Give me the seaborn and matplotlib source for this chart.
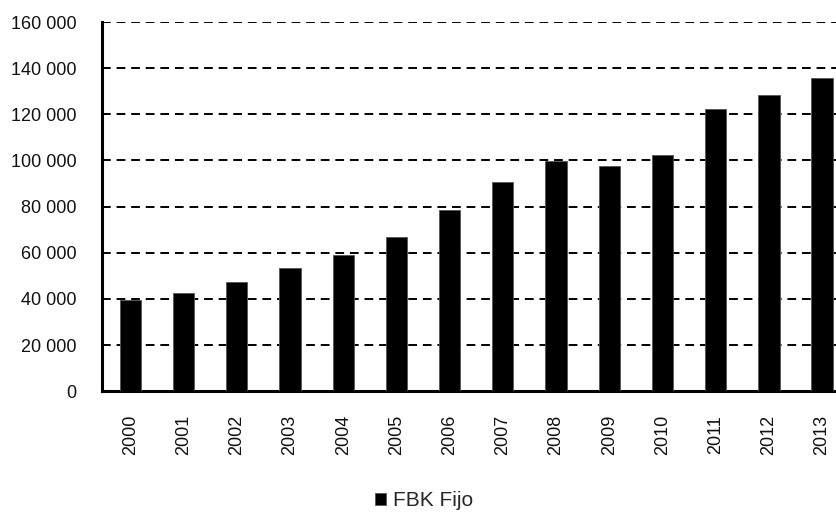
import matplotlib

matplotlib.use("Agg")
import matplotlib.pyplot as plt
from matplotlib.ticker import FuncFormatter, MultipleLocator
import pandas as pd
import seaborn as sns

years = ["2000", "2001", "2002", "2003", "2004", "2005", "2006",
         "2007", "2008", "2009", "2010", "2011", "2012", "2013"]
fbk_fijo = [39500, 42600, 47300, 53500, 59000, 67000, 78700,
            90500, 99600, 97800, 102200, 122300, 128500, 135700]
series_label = "FBK Fijo"

sns.set_theme(style="white")
plt.rcParams["font.family"] = ["Liberation Sans", "DejaVu Sans"]

df = pd.DataFrame({"year": years, "value": fbk_fijo, "serie": series_label})

fig = plt.figure(figsize=(8.37, 5.12), dpi=100)
ax = fig.add_axes([0.122, 0.236, 0.878, 0.721])

sns.barplot(data=df, x="year", y="value", hue="serie", palette=["black"],
            width=0.4, edgecolor="#555555", linewidth=0.6, ax=ax, zorder=3)

ax.set_ylim(0, 160000)
ax.set_xlim(-0.53, 13.28)
ax.yaxis.set_major_locator(MultipleLocator(20000))
ax.yaxis.set_major_formatter(FuncFormatter(lambda v, _: f"{int(v):,}".replace(",", " ")))
ax.grid(axis="y", color="black", linestyle=(0, (4.5, 3)), linewidth=1.4, zorder=0)
ax.set_axisbelow(True)

for side in ("top", "right"):
    ax.spines[side].set_visible(False)
for side in ("left", "bottom"):
    ax.spines[side].set_color("black")
    ax.spines[side].set_linewidth(2.2)

ax.tick_params(axis="y", length=0, pad=18.5, labelsize=13, colors="#111111")
ax.tick_params(axis="x", length=0, pad=17, labelsize=13, labelrotation=90, colors="#111111")
ax.set_xlabel("")
ax.set_ylabel("")

ax.legend_.remove()
handles, labels = ax.get_legend_handles_labels()
fig.legend(handles, labels, loc="center", bbox_to_anchor=(0.507, 0.022), frameon=False,
           handlelength=0.5, handleheight=0.5, handletextpad=0.35, fontsize=15)

fig.savefig("out.png", dpi=100)
